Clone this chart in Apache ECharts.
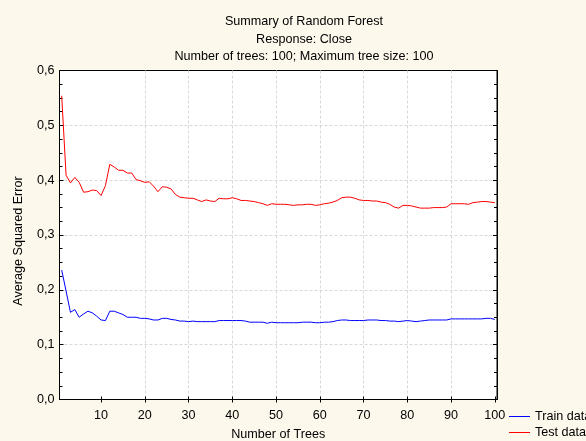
<!DOCTYPE html>
<html>
<head>
<meta charset="utf-8">
<script src="https://cdn.jsdelivr.net/npm/echarts@6/dist/echarts.min.js"></script>
<style>
html,body{margin:0;padding:0;background:#fcf8ec;}
#c{width:586px;height:441px;}
</style>
</head>
<body>
<div id="c"></div>
<script>
var trees = [];
for (var i = 1; i <= 100; i++) trees.push(i);
var xTickLabels = [10, 20, 30, 40, 50, 60, 70, 80, 90, 100];
var yTickLabels = ['0,0', '0,1', '0,2', '0,3', '0,4', '0,5', '0,6'];
var trainData = [
0.236,0.198,0.159,0.164,0.150,0.156,0.161,0.158,0.152,0.145,
0.144,0.161,0.161,0.158,0.155,0.150,0.150,0.150,0.148,0.148,
0.147,0.145,0.145,0.148,0.148,0.146,0.145,0.143,0.143,0.142,
0.143,0.142,0.142,0.142,0.142,0.142,0.144,0.144,0.144,0.144,
0.144,0.144,0.143,0.141,0.141,0.141,0.141,0.139,0.141,0.140,
0.140,0.140,0.140,0.140,0.140,0.141,0.141,0.141,0.140,0.140,
0.141,0.141,0.142,0.144,0.145,0.145,0.144,0.144,0.144,0.144,
0.145,0.145,0.145,0.144,0.144,0.143,0.143,0.142,0.143,0.144,
0.143,0.142,0.143,0.144,0.145,0.145,0.145,0.145,0.145,0.147,
0.147,0.147,0.147,0.147,0.147,0.147,0.147,0.148,0.148,0.146
];
var testData = [
0.554,0.409,0.395,0.405,0.396,0.378,0.379,0.382,0.381,0.372,
0.390,0.429,0.424,0.418,0.418,0.413,0.413,0.401,0.399,0.396,
0.397,0.389,0.379,0.388,0.387,0.384,0.374,0.369,0.368,0.367,
0.367,0.364,0.361,0.364,0.362,0.361,0.367,0.366,0.366,0.368,
0.366,0.363,0.363,0.362,0.361,0.359,0.357,0.354,0.357,0.356,
0.356,0.356,0.355,0.354,0.355,0.355,0.356,0.356,0.354,0.355,
0.357,0.358,0.360,0.363,0.368,0.369,0.369,0.367,0.364,0.363,
0.363,0.362,0.362,0.360,0.359,0.356,0.351,0.349,0.354,0.354,
0.353,0.351,0.349,0.349,0.349,0.350,0.350,0.350,0.351,0.357,
0.357,0.357,0.357,0.356,0.359,0.360,0.361,0.361,0.360,0.359
];

function pairs(xs, ys) { return xs.map(function (x, i) { return [x, ys[i]]; }); }

var font = 'Liberation Sans, Arial, sans-serif';
var fs = 12.6;
var gridLine = { show: true, showMinLine: false, showMaxLine: false, lineStyle: { color: '#d8d8d8', type: [3, 2], width: 1 } };

var chart = echarts.init(document.getElementById('c'), null, { renderer: 'canvas' });
chart.setOption({
  backgroundColor: '#fcf8ec',
  animation: false,
  title: {
    text: 'Summary of Random Forest\nResponse: Close\nNumber of trees: 100; Maximum tree size: 100',
    left: 299, top: 8, textAlign: 'center',
    textStyle: { fontFamily: font, fontSize: fs, fontWeight: 'normal', color: '#000', lineHeight: 17.5 }
  },
  legend: {
    data: ['Train data', 'Test data'],
    orient: 'vertical', left: 509, top: 410, padding: 0,
    icon: 'rect', itemWidth: 21, itemHeight: 1, itemGap: 3,
    textStyle: { fontFamily: font, fontSize: fs, color: '#000' }
  },
  grid: {
    left: 59.5, top: 70.5, right: 89, bottom: 41.5,
    outerBoundsMode: 'none', containLabel: false,
    show: true, backgroundColor: '#ffffff', borderColor: '#000', borderWidth: 1
  },
  xAxis: [{
    type: 'value', min: 0.5, max: 100.5, position: 'bottom',
    name: 'Number of Trees', nameLocation: 'middle', nameGap: 29,
    nameTextStyle: { fontFamily: font, fontSize: fs, color: '#000' },
    axisLine: { show: true, lineStyle: { color: '#000' } },
    axisTick: { show: true, inside: true, length: 3, customValues: xTickLabels, lineStyle: { color: '#000' } },
    axisLabel: { customValues: xTickLabels, fontFamily: font, fontSize: fs, color: '#000', margin: 9.5 },
    splitLine: gridLine
  }, {
    type: 'value', min: 0.5, max: 100.5, position: 'top',
    axisLine: { show: true, lineStyle: { color: '#000' } },
    axisTick: { show: true, inside: true, length: 3, customValues: xTickLabels, lineStyle: { color: '#000' } },
    axisLabel: { show: false },
    splitLine: { show: false }
  }],
  yAxis: [{
    type: 'value', min: 0, max: 0.6, interval: 0.1, position: 'left',
    name: 'Average Squared Error', nameLocation: 'middle', nameGap: 34,
    nameTextStyle: { fontFamily: font, fontSize: fs, color: '#000', padding: [0, 12, 0, 0] },
    axisLine: { show: true, lineStyle: { color: '#000' } },
    axisTick: { show: true, inside: true, length: 4, lineStyle: { color: '#000' } },
    minorTick: { show: true, splitNumber: 4, length: 3, lineStyle: { color: '#000' } },
    axisLabel: {
      fontFamily: font, fontSize: fs, color: '#000', margin: 5,
      formatter: function (v) { return yTickLabels[Math.round(v * 10)]; }
    },
    splitLine: gridLine
  }, {
    type: 'value', min: 0, max: 0.6, interval: 0.1, position: 'right',
    axisLine: { show: true, lineStyle: { color: '#000' } },
    axisTick: { show: true, inside: true, length: 4, lineStyle: { color: '#000' } },
    minorTick: { show: true, splitNumber: 4, length: 3, lineStyle: { color: '#000' } },
    axisLabel: { show: false },
    splitLine: { show: false }
  }],
  series: [{
    name: 'Train data', type: 'line', xAxisIndex: 0, yAxisIndex: 0,
    data: pairs(trees, trainData), showSymbol: false, symbol: 'none',
    lineStyle: { color: '#0000ff', width: 1 }, itemStyle: { color: '#0000ff' }
  }, {
    name: 'Test data', type: 'line', xAxisIndex: 0, yAxisIndex: 0,
    data: pairs(trees, testData), showSymbol: false, symbol: 'none',
    lineStyle: { color: '#ff0000', width: 1 }, itemStyle: { color: '#ff0000' }
  }]
});
</script>
</body>
</html>
